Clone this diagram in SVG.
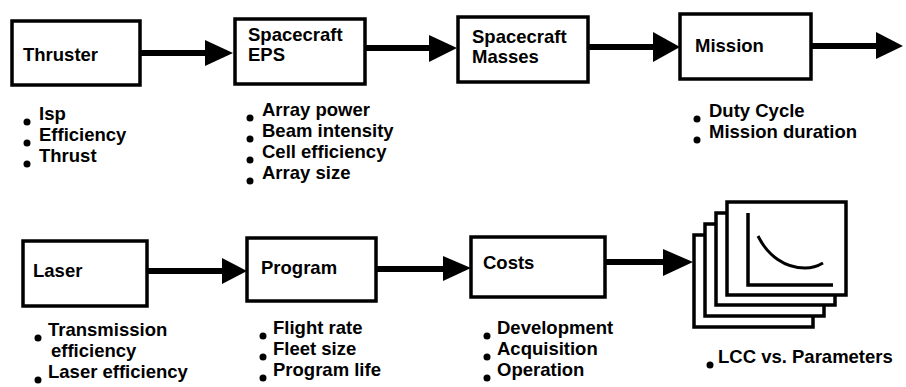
<svg xmlns="http://www.w3.org/2000/svg" width="906" height="387" viewBox="0 0 906 387">
<style>
.box{fill:#fff;stroke:#000;stroke-width:3.5}
.bt{font-family:"Liberation Sans",Arial,sans-serif;font-weight:bold;font-size:18.5px;fill:#000}
.lt{font-family:"Liberation Sans",Arial,sans-serif;font-weight:bold;font-size:18.5px;fill:#000}
.ln{stroke:#000;stroke-width:6;fill:none}
.hd{fill:#000}
.sheet{fill:#fff;stroke:#000;stroke-width:3.5}
.dot{fill:#000}
</style>
<rect width="906" height="387" fill="#fff"/>
<g id="connectors">
<line class="ln" x1="140" y1="53" x2="208" y2="53"/><polygon class="hd" points="205,40 233,53 205,66"/>
<line class="ln" x1="365" y1="48" x2="432" y2="48"/><polygon class="hd" points="429,35 457,48 429,62"/>
<line class="ln" x1="588" y1="47" x2="656" y2="47"/><polygon class="hd" points="653,32 680,47 653,62"/>
<line class="ln" x1="811" y1="46" x2="879" y2="46"/><polygon class="hd" points="876,32 903,46 876,59"/>
<line class="ln" x1="147" y1="271" x2="225" y2="271"/><polygon class="hd" points="222,258 247,271 222,284"/>
<line class="ln" x1="376" y1="269" x2="446" y2="269"/><polygon class="hd" points="443,256 471,268 443,281"/>
<line class="ln" x1="605" y1="262" x2="666" y2="262"/><polygon class="hd" points="663,249 693,262 663,276"/>
</g>
<g id="thruster">
<rect class="box" x="12" y="21" width="128" height="64"/>
<text class="bt" x="23" y="61">Thruster</text>
<circle class="dot" cx="27" cy="122" r="3.5"/><text class="lt" x="39" y="120">Isp</text>
<circle class="dot" cx="27" cy="143" r="3.5"/><text class="lt" x="39" y="141">Efficiency</text>
<circle class="dot" cx="27" cy="164" r="3.5"/><text class="lt" x="39" y="162">Thrust</text>
</g>
<g id="eps">
<rect class="box" x="235" y="19" width="130" height="65"/>
<text class="bt" x="248" y="41">Spacecraft</text>
<text class="bt" x="248" y="61">EPS</text>
<circle class="dot" cx="250" cy="118" r="3.5"/><text class="lt" x="262" y="116">Array power</text>
<circle class="dot" cx="250" cy="139" r="3.5"/><text class="lt" x="262" y="137">Beam intensity</text>
<circle class="dot" cx="250" cy="160" r="3.5"/><text class="lt" x="262" y="158">Cell efficiency</text>
<circle class="dot" cx="250" cy="181" r="3.5"/><text class="lt" x="262" y="179">Array size</text>
</g>
<g id="masses">
<rect class="box" x="458" y="17" width="130" height="65"/>
<text class="bt" x="472" y="43">Spacecraft</text>
<text class="bt" x="472" y="63">Masses</text>
</g>
<g id="mission">
<rect class="box" x="680" y="14" width="131" height="65"/>
<text class="bt" x="695" y="52">Mission</text>
<circle class="dot" cx="697" cy="119" r="3.5"/><text class="lt" x="709" y="117">Duty Cycle</text>
<circle class="dot" cx="697" cy="140" r="3.5"/><text class="lt" x="709" y="138">Mission duration</text>
</g>
<g id="laser">
<rect class="box" x="23" y="241" width="124" height="65"/>
<text class="bt" x="33" y="277">Laser</text>
<circle class="dot" cx="38" cy="338" r="3.5"/><text class="lt" x="48" y="336">Transmission</text>
<text class="lt" x="51" y="357">efficiency</text>
<circle class="dot" cx="38" cy="380" r="3.5"/><text class="lt" x="48" y="378">Laser efficiency</text>
</g>
<g id="program">
<rect class="box" x="247" y="238" width="129" height="63"/>
<text class="bt" x="261" y="274">Program</text>
<circle class="dot" cx="263" cy="336" r="3.5"/><text class="lt" x="273" y="334">Flight rate</text>
<circle class="dot" cx="263" cy="357" r="3.5"/><text class="lt" x="273" y="355">Fleet size</text>
<circle class="dot" cx="263" cy="378" r="3.5"/><text class="lt" x="273" y="376">Program life</text>
</g>
<g id="costs">
<rect class="box" x="471" y="237" width="134" height="60"/>
<text class="bt" x="483" y="269">Costs</text>
<circle class="dot" cx="487" cy="336" r="3.5"/><text class="lt" x="497" y="334">Development</text>
<circle class="dot" cx="487" cy="357" r="3.5"/><text class="lt" x="497" y="355">Acquisition</text>
<circle class="dot" cx="487" cy="378" r="3.5"/><text class="lt" x="497" y="376">Operation</text>
</g>
<g id="lcc">
<rect class="sheet" x="694" y="235" width="119" height="92"/>
<rect class="sheet" x="705" y="224" width="119" height="92"/>
<rect class="sheet" x="716" y="213" width="119" height="92"/>
<rect class="sheet" x="727" y="202" width="119" height="93"/>
<polyline points="748,213 748,285 833,285" fill="none" stroke="#000" stroke-width="3.5"/>
<path d="M758,236 C768,256 785,268 805,268 C812,268 818,266 823,263" fill="none" stroke="#000" stroke-width="3"/>
<circle class="dot" cx="710" cy="365" r="3.5"/><text class="lt" x="718" y="363">LCC vs. Parameters</text>
</g>
</svg>
